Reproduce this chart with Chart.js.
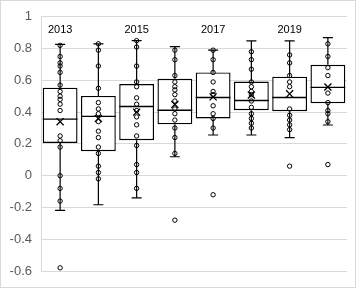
<!DOCTYPE html>
<html>
<head>
<meta charset="utf-8">
<script src="https://cdn.jsdelivr.net/npm/chart.js@4/dist/chart.umd.min.js"></script>
<style>
  html, body { margin: 0; padding: 0; background: #fff; }
  #wrap { width: 356px; height: 288px; position: relative; }
</style>
</head>
<body>
<div id="wrap"><canvas id="grafico"></canvas></div>
<script>
// Box plot por año (estilo Excel) hecho con barras flotantes + puntos

const anios = ['2013', '2014', '2015', '2016', '2017', '2018', '2019', '2020'];
const etiquetasArriba = ['2013', '', '2015', '', '2017', '', '2019', ''];
const alturaEtiqueta = 0.92;

const cuartil1 = [0.206, 0.154, 0.223, 0.323, 0.36, 0.412, 0.406, 0.456];
const mediana = [0.356, 0.373, 0.435, 0.412, 0.492, 0.473, 0.492, 0.556];
const cuartil3 = [0.554, 0.502, 0.577, 0.61, 0.65, 0.592, 0.623, 0.698];
const bigoteMax = [0.827, 0.829, 0.85, 0.812, 0.79, 0.848, 0.848, 0.869];
const bigoteMin = [-0.219, -0.183, -0.14, 0.119, 0.256, 0.256, 0.24, 0.319];
const promedio = [0.34, 0.36, 0.40, 0.448, 0.496, 0.508, 0.515, 0.558];

const puntos2013 = [0.82, 0.75, 0.71, 0.69, 0.65, 0.57, 0.53, 0.50, 0.48, 0.45, 0.41, 0.25, 0.22, 0.18, 0.00, -0.08, -0.16, -0.58];
const puntos2014 = [0.83, 0.79, 0.69, 0.55, 0.46, 0.42, 0.39, 0.34, 0.28, 0.24, 0.18, 0.14, 0.06, 0.02, -0.02];
const puntos2015 = [0.85, 0.81, 0.69, 0.59, 0.56, 0.49, 0.45, 0.41, 0.37, 0.32, 0.25, 0.19, 0.07, 0.02, -0.08];
const puntos2016 = [0.79, 0.73, 0.63, 0.59, 0.56, 0.54, 0.51, 0.47, 0.42, 0.39, 0.35, 0.30, 0.24, 0.14, -0.28];
const puntos2017 = [0.79, 0.73, 0.65, 0.59, 0.53, 0.51, 0.44, 0.39, 0.36, 0.30, -0.12];
const puntos2018 = [0.78, 0.73, 0.67, 0.59, 0.56, 0.53, 0.51, 0.47, 0.43, 0.39, 0.36, 0.33, 0.30];
const puntos2019 = [0.76, 0.71, 0.63, 0.59, 0.56, 0.42, 0.38, 0.35, 0.32, 0.29, 0.06];
const puntos2020 = [0.83, 0.75, 0.68, 0.63, 0.52, 0.46, 0.41, 0.39, 0.34, 0.07];

const puntosPorAnio = [puntos2013, puntos2014, puntos2015, puntos2016, puntos2017, puntos2018, puntos2019, puntos2020];

// puntos como {x: año, y: valor}
const datosPuntos = [];
puntosPorAnio.forEach((lista, i) => {
  lista.forEach(v => datosPuntos.push({ x: anios[i], y: v }));
});

// bigotes, mediana y etiquetas
const pluginCaja = {
  id: 'pluginCaja',
  afterDatasetsDraw(chart) {
    const ctx = chart.ctx;
    const xs = chart.scales.x;
    const ys = chart.scales.y;
    const barras = chart.getDatasetMeta(0).data;
    ctx.save();
    ctx.strokeStyle = '#000';
    ctx.lineWidth = 1.2;
    anios.forEach((a, i) => {
      const x = xs.getPixelForValue(i);
      const mitad = barras[i].width / 2;
      const cap = 5;
      ctx.beginPath();
      ctx.moveTo(x, ys.getPixelForValue(cuartil3[i]));
      ctx.lineTo(x, ys.getPixelForValue(bigoteMax[i]));
      ctx.moveTo(x - cap, ys.getPixelForValue(bigoteMax[i]));
      ctx.lineTo(x + cap, ys.getPixelForValue(bigoteMax[i]));
      ctx.moveTo(x, ys.getPixelForValue(cuartil1[i]));
      ctx.lineTo(x, ys.getPixelForValue(bigoteMin[i]));
      ctx.moveTo(x - cap, ys.getPixelForValue(bigoteMin[i]));
      ctx.lineTo(x + cap, ys.getPixelForValue(bigoteMin[i]));
      ctx.stroke();
      ctx.beginPath();
      ctx.lineWidth = 1.4;
      ctx.moveTo(x - mitad, ys.getPixelForValue(mediana[i]));
      ctx.lineTo(x + mitad, ys.getPixelForValue(mediana[i]));
      ctx.stroke();
      ctx.lineWidth = 1.2;
    });
    ctx.fillStyle = '#000';
    ctx.font = '11px "Liberation Sans", Arial, sans-serif';
    ctx.textAlign = 'center';
    ctx.textBaseline = 'middle';
    etiquetasArriba.forEach((t, i) => {
      if (t) ctx.fillText(t, xs.getPixelForValue(i), ys.getPixelForValue(alturaEtiqueta));
    });
    ctx.restore();
  },
  afterDraw(chart) {
    const ctx = chart.ctx;
    ctx.save();
    ctx.strokeStyle = '#d9d9d9';
    ctx.lineWidth = 1;
    ctx.strokeRect(0.5, 0.5, chart.width - 1, chart.height - 1);
    ctx.restore();
  }
};

const ctxGrafico = document.getElementById('grafico').getContext('2d');
new Chart(ctxGrafico, {
  type: 'bar',
  data: {
    labels: anios,
    datasets: [
      {
        type: 'bar',
        data: anios.map((a, i) => [cuartil1[i], cuartil3[i]]),
        backgroundColor: '#ffffff',
        borderColor: '#000000',
        borderWidth: 1.4,
        borderSkipped: false,
        barPercentage: 0.91,
        categoryPercentage: 1,
        order: 3
      },
      {
        type: 'line',
        data: datosPuntos,
        showLine: false,
        pointStyle: 'circle',
        pointRadius: 2.2,
        pointBorderWidth: 1,
        pointBorderColor: '#000',
        pointBackgroundColor: 'rgba(255,255,255,0)',
        order: 2
      },
      {
        type: 'line',
        data: anios.map((a, i) => ({ x: a, y: promedio[i] })),
        showLine: false,
        pointStyle: 'crossRot',
        pointRadius: 5,
        pointBorderWidth: 1.3,
        pointBorderColor: '#000',
        order: 1
      }
    ]
  },
  options: {
    responsive: true,
    maintainAspectRatio: false,
    animation: false,
    layout: { padding: { left: 0, right: 9, top: 16, bottom: 17 } },
    plugins: {
      legend: { display: false },
      tooltip: { enabled: false }
    },
    scales: {
      x: {
        type: 'category',
        display: false,
        offset: true
      },
      y: {
        min: -0.6,
        max: 1,
        afterFit: (s) => { s.width = 41; },
        ticks: {
          stepSize: 0.2,
          padding: 9,
          color: '#595959',
          font: { family: '"Liberation Sans", Arial, sans-serif', size: 13 },
          callback: (v) => String(Number(v.toFixed(1)))
        },
        grid: { color: '#d9d9d9', drawTicks: false, lineWidth: 1 },
        border: { display: true, color: '#d9d9d9' }
      }
    }
  },
  plugins: [pluginCaja]
});
</script>
</body>
</html>
